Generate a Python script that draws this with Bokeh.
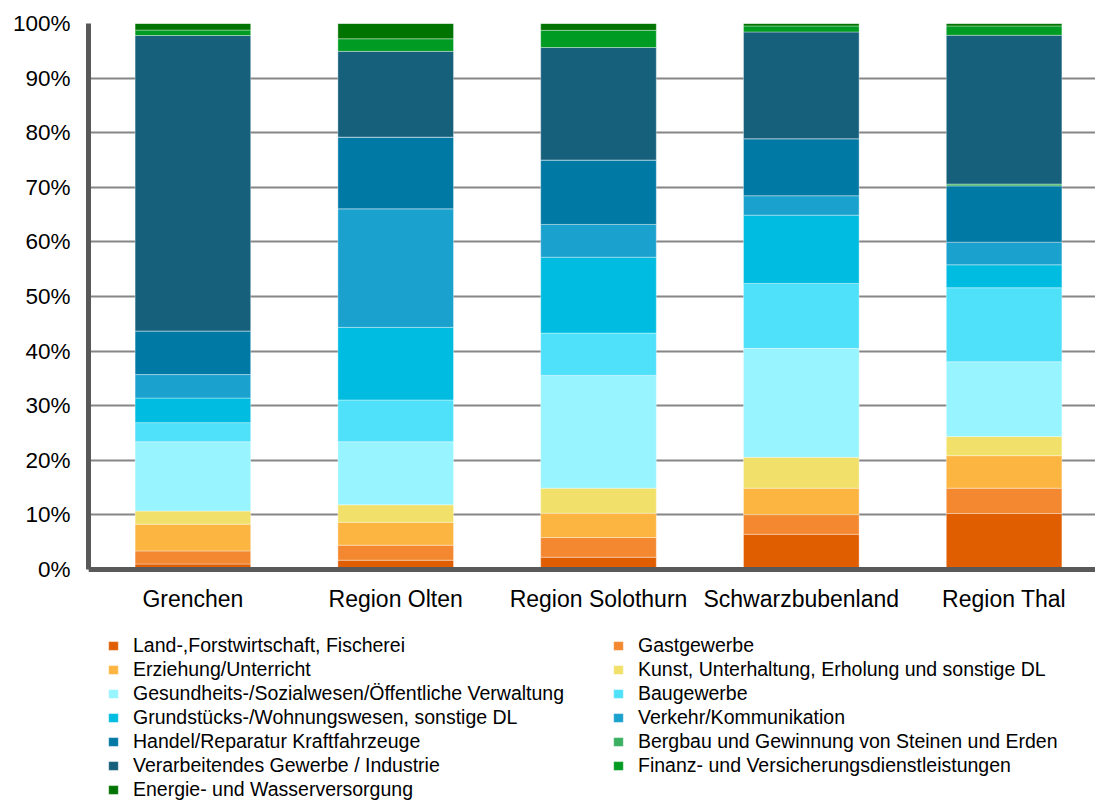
from bokeh.plotting import figure
from bokeh.models import ColumnDataSource, Range1d, FixedTicker, Legend, LegendItem
from bokeh.embed import file_html
from bokeh.resources import INLINE

# Regions (x axis)
categories = ["Grenchen", "Region Olten", "Region Solothurn", "Schwarzbubenland", "Region Thal"]

# Share of employment per sector, in percent of each region (stacked bottom to top)
land = [1.0, 1.7, 2.25, 6.45, 10.25]
gast = [2.4, 2.75, 3.6, 3.6, 4.65]
erziehung = [4.9, 4.2, 4.45, 4.85, 5.95]
kunst = [2.4, 3.2, 4.6, 5.65, 3.5]
gesundheit = [12.7, 11.55, 20.65, 19.95, 13.7]
bau = [3.5, 7.65, 7.75, 11.9, 13.55]
grundstuecke = [4.5, 13.3, 13.9, 12.5, 4.2]
verkehr = [4.3, 21.7, 6.0, 3.55, 4.15]
handel = [8.0, 13.15, 11.8, 10.45, 10.3]
bergbau = [0.0, 0.0, 0.0, 0.0, 0.35]
industrie = [54.1, 15.7, 20.6, 19.55, 27.25]
finanz = [1.0, 2.3, 3.15, 1.1, 1.7]
energie = [1.2, 2.8, 1.25, 0.45, 0.45]

sector_labels = [
    "Land-,Forstwirtschaft, Fischerei",
    "Gastgewerbe",
    "Erziehung/Unterricht",
    "Kunst, Unterhaltung, Erholung und sonstige DL",
    "Gesundheits-/Sozialwesen/Öffentliche Verwaltung",
    "Baugewerbe",
    "Grundstücks-/Wohnungswesen, sonstige DL",
    "Verkehr/Kommunikation",
    "Handel/Reparatur Kraftfahrzeuge",
    "Bergbau und Gewinnung von Steinen und Erden",
    "Verarbeitendes Gewerbe / Industrie",
    "Finanz- und Versicherungsdienstleistungen",
    "Energie- und Wasserversorgung",
]

y_ticks = [0, 10, 20, 30, 40, 50, 60, 70, 80, 90, 100]
y_tick_labels = ["0%", "10%", "20%", "30%", "40%", "50%", "60%", "70%", "80%", "90%", "100%"]

colors = [
    "#E05E00", "#F38830", "#FDB541", "#F1E16B", "#98F4FE", "#4FE0FA", "#00BCE0",
    "#1BA1CE", "#0079A5", "#3CB062", "#17607B", "#009B22", "#007400",
]

keys = ["land", "gast", "erziehung", "kunst", "gesundheit", "bau", "grundstuecke",
        "verkehr", "handel", "bergbau", "industrie", "finanz", "energie"]
columns = [land, gast, erziehung, kunst, gesundheit, bau, grundstuecke,
           verkehr, handel, bergbau, industrie, finanz, energie]

data = {"x": list(range(len(categories)))}
for k, col in zip(keys, columns):
    data[k] = col
source = ColumnDataSource(data)

# The frame reaches the bottom of the page so that the legend block below
# the bars can be drawn inside it; the 0 % line sits 233 px above the bottom.
W, H = 1095, 802
top_pad, left_pad = 23, 88
px_per_pct = 5.46
y_start = -(233 / px_per_pct)
px_per_cat = 202.8
x_start = -0.5 - 3 / px_per_cat
x_end = x_start + (W - left_pad) / px_per_cat

p = figure(
    width=W, height=H,
    x_range=Range1d(x_start, x_end), y_range=Range1d(y_start, 100),
    output_backend="svg", toolbar_location=None,
    min_border_left=left_pad, min_border_right=0, min_border_top=top_pad, min_border_bottom=0,
)
p.outline_line_color = None

renderers = p.vbar_stack(
    keys, x="x", width=0.57, color=colors, source=source,
    line_color="white", line_alpha=0.35, line_width=1,
)

# axes
font = "Liberation Sans"
p.xaxis.fixed_location = 0
p.xaxis.ticker = FixedTicker(ticks=data["x"])
p.xaxis.major_label_overrides = {i: c for i, c in enumerate(categories)}
p.yaxis.ticker = FixedTicker(ticks=y_ticks)
p.yaxis.bounds = (0, 100)
p.yaxis.major_label_overrides = {t: lab for t, lab in zip(y_ticks, y_tick_labels)}
for ax in (p.xaxis, p.yaxis):
    ax.axis_line_color = "#595959"
    ax.axis_line_width = 5
    ax.major_tick_line_color = None
    ax.minor_tick_line_color = None
    ax.major_tick_out = 0
    ax.major_tick_in = 0
    ax.minor_tick_out = 0
    ax.major_label_text_font = font
    ax.major_label_text_color = "#000000"
p.yaxis.major_label_text_font_size = "22.5px"
p.yaxis.major_label_standoff = 18
p.xaxis.major_label_text_font_size = "23px"
p.xaxis.major_label_standoff = 16

p.xgrid.visible = False
p.ygrid.ticker = FixedTicker(ticks=y_ticks)
p.ygrid.grid_line_color = "#868686"
p.ygrid.grid_line_width = 2

# two-column legend below the bars
items = [LegendItem(label=lab, renderers=[r]) for lab, r in zip(sector_labels, renderers)]
left_items = items[0::2]
right_items = items[1::2]
row_h = 24
legend_top = 633


def make_legend(its, x):
    y = H - legend_top - len(its) * row_h
    return Legend(
        items=its, location=(x, y), orientation="vertical",
        label_text_font=font, label_text_font_size="19.5px", label_text_color="#000000",
        glyph_width=12, glyph_height=11, label_standoff=14, label_height=20,
        spacing=1, padding=0, margin=0,
        border_line_color=None, background_fill_alpha=0,
    )


p.add_layout(make_legend(left_items, 107 - left_pad), "center")
p.add_layout(make_legend(right_items, 612 - left_pad), "center")

open("out.html", "w").write(file_html(p, INLINE))
